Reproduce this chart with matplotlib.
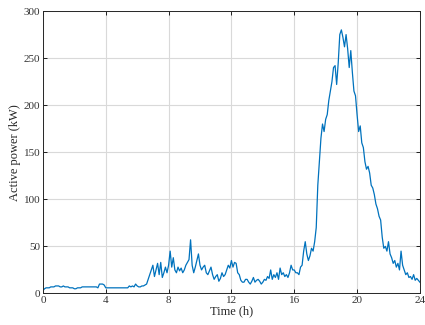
import numpy as np
from matplotlib import pyplot as plt

# hourly blocks, 0.1 h resolution
power_kw = [
    3, 5, 6, 6, 6, 7, 7, 7, 8, 8,
    8, 7, 7, 8, 7, 7, 7, 6, 6, 6,
    5, 5, 6, 6, 6, 7, 7, 7, 7, 7,
    7, 7, 7, 7, 7, 6, 10, 10, 10, 9,
    6, 6, 6, 6, 6, 6, 6, 6, 6, 6,
    6, 6, 6, 6, 6, 8, 7, 8, 7, 10,
    8, 7, 7, 8, 8, 9, 10, 15, 20, 25,
    30, 18, 25, 32, 20, 33, 17, 22, 28, 22,
    30, 45, 28, 38, 25, 22, 28, 24, 27, 22,
    25, 30, 33, 36, 57, 30, 22, 28, 35, 42,
    30, 25, 28, 30, 22, 20, 24, 28, 20, 15,
    18, 20, 13, 16, 22, 18, 20, 25, 30, 27,
    35, 28, 33, 32, 22, 20, 14, 12, 12, 15,
    15, 12, 10, 13, 17, 12, 14, 15, 13, 10,
    12, 15, 14, 18, 16, 25, 15, 20, 17, 22,
    15, 27, 20, 22, 18, 20, 17, 22, 30, 25,
    25, 22, 22, 20, 28, 30, 45, 55, 42, 35,
    40, 48, 45, 55, 70, 115, 140, 165, 180, 172,
    185, 190, 205, 215, 225, 240, 242, 222, 245, 275,
    280, 272, 262, 275, 260, 240, 258, 235, 215, 210,
    190, 172, 178, 160, 155, 140, 132, 135, 128, 115,
    112, 105, 95, 90, 82, 78, 60, 48, 50, 45,
    55, 42, 38, 32, 35, 28, 32, 25, 45, 30,
    25, 20, 22, 17, 18, 15, 20, 14, 16, 14,
    12,
]
time_h = np.arange(len(power_kw)) * 0.1

x_ticks = [0, 4, 8, 12, 16, 20, 24]
y_ticks = [0, 50, 100, 150, 200, 250, 300]

plt.rcParams['font.family'] = ['Liberation Serif', 'DejaVu Serif']

fig = plt.figure(figsize=(4.25, 3.25), dpi=100)
ax = fig.add_axes([0.101, 0.097, 0.887, 0.869])

ax.plot(time_h, power_kw, color='#0072BD', linewidth=0.9)

ax.set_xlim(0, 24)
ax.set_ylim(0, 300)
ax.set_xticks(x_ticks)
ax.set_yticks(y_ticks)
ax.grid(True, color='#d9d9d9', linewidth=0.8)
ax.set_axisbelow(True)
ax.tick_params(direction='in', top=True, right=True, length=3, width=0.6,
               labelsize=8, labelcolor='#333333', pad=2)
for s in ax.spines.values():
    s.set_linewidth(0.7)
    s.set_color('#262626')

ax.set_xlabel('Time (h)', fontsize=9, color='#262626', labelpad=0)
ax.set_ylabel('Active power (kW)', fontsize=9, color='#262626', labelpad=2)

fig.savefig('out.png', dpi=100)
